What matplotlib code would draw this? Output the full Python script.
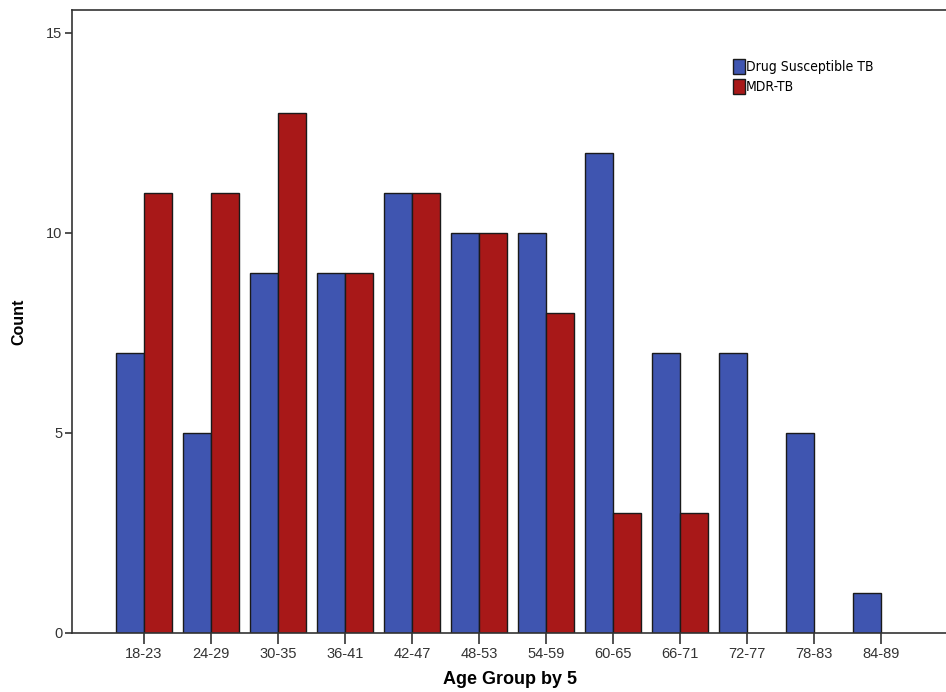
import matplotlib
matplotlib.use('Agg')
import matplotlib.pyplot as plt
import numpy as np

groups = ['18-23', '24-29', '30-35', '36-41', '42-47', '48-53',
          '54-59', '60-65', '66-71', '72-77', '78-83', '84-89']
ds_tb = [7, 5, 9, 9, 11, 10, 10, 12, 7, 7, 5, 1]
mdr_tb = [11, 11, 13, 9, 11, 10, 8, 3, 3, 0, 0, 0]

blue = '#3f55b0'
red = '#a81818'

plt.rcParams['font.family'] = ['Liberation Sans', 'DejaVu Sans']

fig = plt.figure(figsize=(9.46, 6.92), dpi=100)
ax = fig.add_axes([72/946, 59/692, 1 - 72/946 + 0.002, (633-10)/692])

x = np.arange(len(groups))
w = 28/67
ax.bar(x - w/2, ds_tb, width=w, color=blue, edgecolor='#1a1a1a', linewidth=1.0, label='Drug Susceptible TB')
# skip zero-height MDR bars so no flat line is drawn
mdr = np.array(mdr_tb, dtype=float)
m = mdr > 0
ax.bar(x[m] + w/2, mdr[m], width=w, color=red, edgecolor='#1a1a1a', linewidth=1.0, label='MDR-TB')

ax.set_xlim(-72/67, 11 + 67/67)
ax.set_ylim(0, 623/40)
ax.set_xticks(x)
ax.set_xticklabels(groups, fontsize=10.5, color='#333333')
ax.set_yticks([0, 5, 10, 15])
ax.set_yticklabels(['0', '5', '10', '15'], fontsize=10.5, color='#333333')
ax.tick_params(axis='x', length=8, width=1.2, color='#333333', pad=2)
ax.tick_params(axis='y', length=5, width=1.2, color='#333333', pad=2)
for s in ['left', 'top', 'bottom', 'right']:
    ax.spines[s].set_color('#333333')
    ax.spines[s].set_linewidth(1.2)
ax.spines['right'].set_visible(False)

ax.set_xlabel('Age Group by 5', fontsize=13, fontweight='bold', labelpad=7)
ax.set_ylabel('Count', fontsize=11.5, fontweight='bold', labelpad=14)

leg = ax.legend(loc='upper left', bbox_to_anchor=(726/946, 1 - 52/692),
                bbox_transform=fig.transFigure, frameon=False,
                prop={'family': 'DejaVu Sans', 'stretch': 'condensed', 'size': 10},
                handlelength=0.85, handleheight=1.3, handletextpad=0.1,
                labelspacing=0.35, borderpad=0)

fig.savefig('out.png', dpi=100)
